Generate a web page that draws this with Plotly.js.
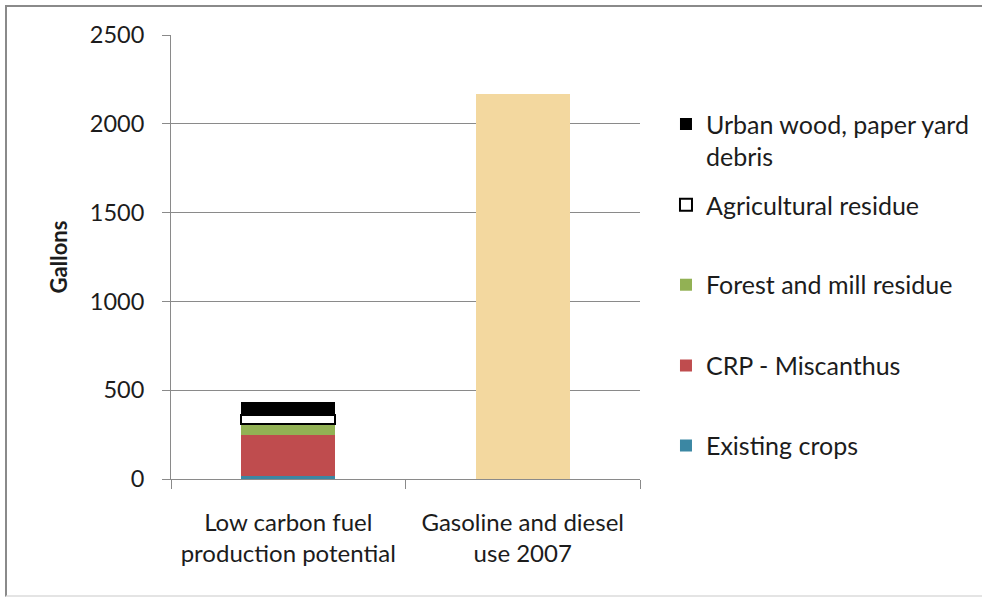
<!DOCTYPE html>
<html>
<head>
<meta charset="utf-8">
<script src="https://cdn.plot.ly/plotly-3.0.1.min.js"></script>
<style>
  html, body { margin: 0; padding: 0; background: #fff; overflow: hidden; }
  #chart { width: 982px; height: 597px; }
  #frame {
    position: absolute; left: 5px; top: 5px; width: 1000px; height: 588px;
    border-left: 2px solid #8a8a8a; border-top: 2px solid #8a8a8a;
    border-bottom: 2px solid #e4e4e4; pointer-events: none;
  }
</style>
</head>
<body>
<div id="chart"></div>
<div id="frame"></div>
<script>
// Category tick labels
const categories = ['Low carbon fuel<br>production potential', 'Gasoline and diesel<br>use 2007'];

// Low carbon fuel sources (gallons), stacked bottom to top
const existingCrops   = [15, null];
const crpMiscanthus   = [235, null];
const forestMill      = [60, null];
const agResidue       = [50, null];
const urbanWood       = [72, null];

// Current consumption (gallons)
const gasolineDiesel  = [null, 2170];

const FONT = 'Lato, "Open Sans", sans-serif';
const TEXT = '#1c1c1c';
const GRID = '#8a8a8a';

function legendBox(y) {
  return {
    x: 1.0554, xanchor: 'left', y: y, yanchor: 'middle',
    bgcolor: 'rgba(0,0,0,0)', borderwidth: 0, valign: 'top',
    font: { family: FONT, size: 25, color: TEXT }
  };
}

const traces = [
  { type: 'bar', name: 'Existing crops', x: categories, y: existingCrops,
    marker: { color: '#3b87a3' }, legend: 'legend5' },
  { type: 'bar', name: 'CRP - Miscanthus', x: categories, y: crpMiscanthus,
    marker: { color: '#bf4c4e' }, legend: 'legend4' },
  { type: 'bar', name: 'Forest and mill residue', x: categories, y: forestMill,
    marker: { color: '#92b154' }, legend: 'legend3' },
  { type: 'bar', name: 'Agricultural residue', x: categories, y: agResidue,
    marker: { color: '#ffffff', line: { color: '#000000', width: 2 } }, legend: 'legend2' },
  { type: 'bar', name: 'Urban wood, paper yard<br>debris', x: categories, y: urbanWood,
    marker: { color: '#000000' }, legend: 'legend' },
  { type: 'bar', name: 'Gasoline and diesel use 2007', x: categories, y: gasolineDiesel,
    marker: { color: '#f3d89f' }, showlegend: false }
];

const layout = {
  width: 982, height: 597,
  margin: { l: 171, r: 342, t: 35, b: 118, autoexpand: false },
  paper_bgcolor: '#ffffff', plot_bgcolor: '#ffffff',
  barmode: 'stack', bargap: 0.6,
  font: { family: FONT, color: TEXT },
  xaxis: {
    type: 'category', tickson: 'boundaries', ticks: 'outside', ticklen: 9,
    tickcolor: GRID, showline: true, linecolor: GRID, linewidth: 1,
    showgrid: false, ticklabelstandoff: 22,
    tickfont: { family: FONT, size: 24, color: TEXT }
  },
  yaxis: {
    range: [0, 2500], dtick: 500, tick0: 0,
    ticks: 'outside', ticklen: 8, tickcolor: GRID,
    showline: true, linecolor: GRID, linewidth: 1,
    showgrid: true, gridcolor: GRID, gridwidth: 1, zeroline: false,
    ticklabelstandoff: 13,
    tickfont: { family: FONT, size: 23.5, color: TEXT },
    title: { text: '<b>Gallons</b>', standoff: 16, font: { family: FONT, size: 22, color: TEXT } }
  },
  legend:  legendBox(0.763),
  legend2: legendBox(0.617),
  legend3: legendBox(0.437),
  legend4: legendBox(0.255),
  legend5: legendBox(0.075)
};

Plotly.newPlot('chart', traces, layout, { displayModeBar: false, staticPlot: true });
</script>
</body>
</html>
